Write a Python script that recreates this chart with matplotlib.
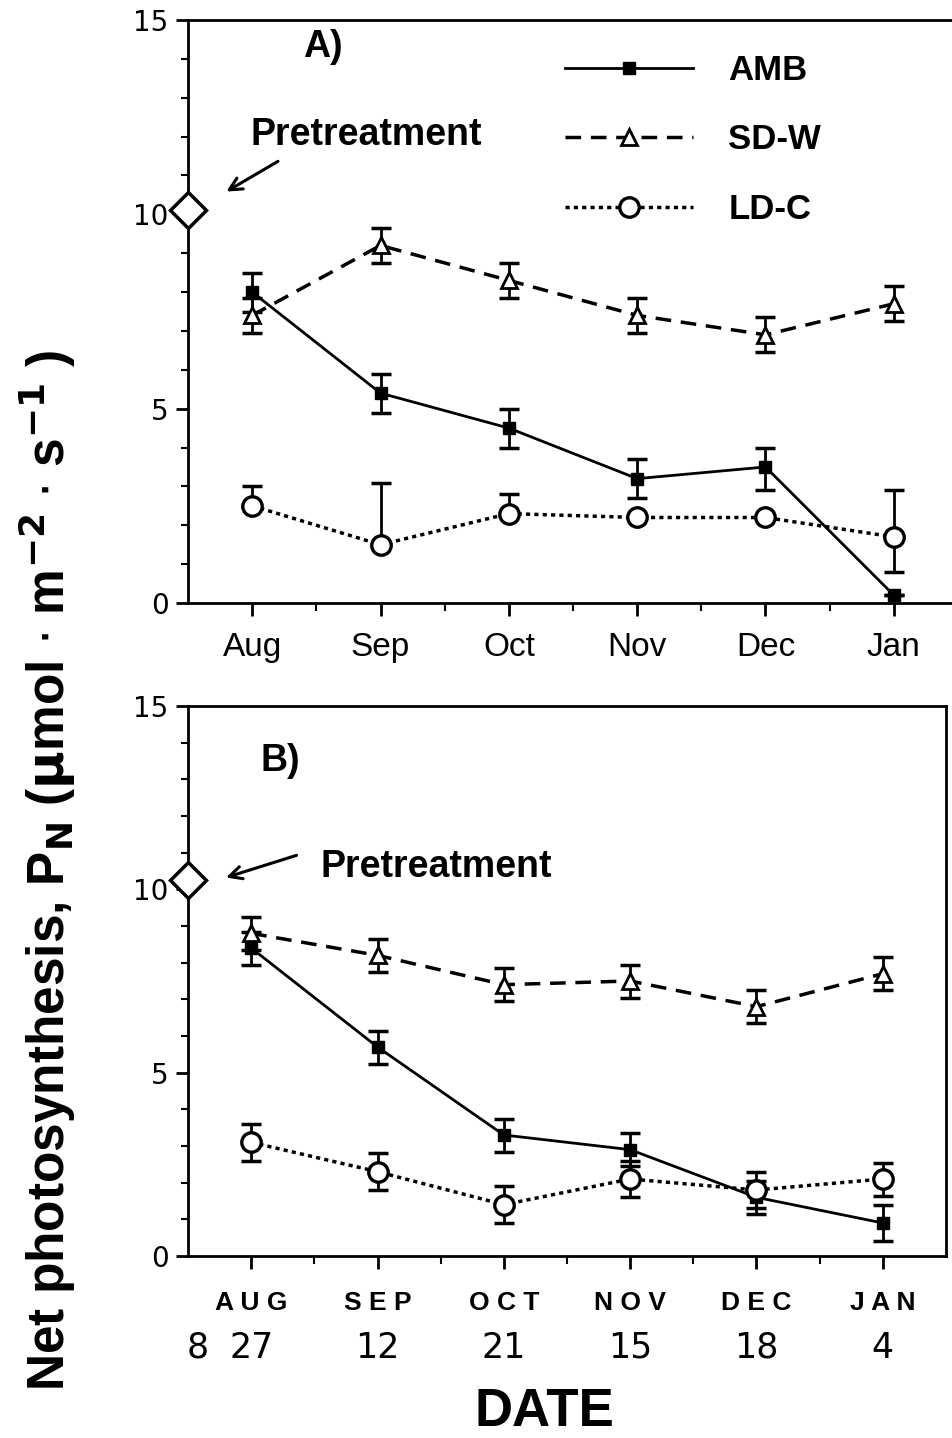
import matplotlib
matplotlib.use("Agg")
import matplotlib.pyplot as plt
from matplotlib.ticker import MultipleLocator, FixedLocator
from matplotlib.transforms import blended_transform_factory

# ---------------- data ----------------
months_a = ['Aug', 'Sep', 'Oct', 'Nov', 'Dec', 'Jan']
months_b = ['A U G', 'S E P', 'O C T', 'N O V', 'D E C', 'J A N']
dates_b = ['8', '27', '12', '21', '15', '18', '4']
y_ticks = [0, 5, 10, 15]

amb_a = [8.0, 5.4, 4.5, 3.2, 3.5, 0.2]
amb_a_lo = [0.5, 0.5, 0.5, 0.5, 0.6, 0.0]
amb_a_hi = [0.5, 0.5, 0.5, 0.5, 0.5, 0.0]
sdw_a = [7.4, 9.2, 8.3, 7.4, 6.9, 7.7]
sdw_a_err = [0.45, 0.45, 0.45, 0.45, 0.45, 0.45]
ldc_a = [2.5, 1.5, 2.3, 2.2, 2.2, 1.7]
ldc_a_lo = [0.0, 0.0, 0.0, 0.0, 0.0, 0.9]
ldc_a_hi = [0.5, 1.6, 0.5, 0.0, 0.0, 1.2]
pre_a = 10.1

amb_b = [8.4, 5.7, 3.3, 2.9, 1.6, 0.9]
amb_b_err = [0.45, 0.45, 0.45, 0.45, 0.45, 0.5]
sdw_b = [8.8, 8.2, 7.4, 7.5, 6.8, 7.7]
sdw_b_err = [0.45, 0.45, 0.45, 0.45, 0.45, 0.45]
ldc_b = [3.1, 2.3, 1.4, 2.1, 1.8, 2.1]
ldc_b_err = [0.5, 0.5, 0.5, 0.5, 0.5, 0.45]
pre_b = 10.25

series_names = ['AMB', 'SD-W', 'LD-C']

# ---------------- figure ----------------
W, H = 952, 1438
fig = plt.figure(figsize=(W / 100, H / 100), dpi=100)
fig.patch.set_facecolor('white')

sans = ['Liberation Sans', 'DejaVu Sans']

x = list(range(1, 7))

def style_axes(ax):
    ax.set_xlim(0.5, 6.5)
    ax.set_ylim(0, 15)
    ax.yaxis.set_minor_locator(MultipleLocator(1))
    ax.xaxis.set_major_locator(FixedLocator(x))
    ax.xaxis.set_minor_locator(FixedLocator([1.5, 2.5, 3.5, 4.5, 5.5]))
    ax.tick_params(axis='y', which='major', direction='out', length=9, width=2, pad=5,
                   labelsize=20)
    ax.tick_params(axis='y', which='minor', direction='out', length=5, width=1.5)
    ax.tick_params(axis='x', which='major', direction='out', length=9, width=2)
    ax.tick_params(axis='x', which='minor', direction='out', length=6, width=1.5)
    ax.set_yticks(y_ticks)
    ax.set_yticklabels([str(v) for v in y_ticks], family='DejaVu Sans', fontsize=20)
    for s in ax.spines.values():
        s.set_linewidth(2)

def draw_series(ax, amb, amb_err, sdw, sdw_err, ldc, ldc_err, pre):
    ek = dict(fmt='none', ecolor='black', elinewidth=2, capsize=7, capthick=2.5, zorder=3)
    ax.errorbar(x, sdw, yerr=sdw_err, **ek)
    ax.errorbar(x, amb, yerr=amb_err, **ek)
    ax.errorbar(x, ldc, yerr=ldc_err, **ek)
    l1, = ax.plot(x, amb, color='black', lw=2, ls='-', marker='s', ms=9,
                  mfc='black', mec='black', zorder=4)
    l2, = ax.plot(x, sdw, color='black', lw=2.5, ls=(0, (4.5, 2.8)), marker='^', ms=12,
                  mfc='white', mec='black', mew=2, zorder=4)
    l3, = ax.plot(x, ldc, color='black', lw=2.5, ls=(0, (1.2, 1.2)), marker='o', ms=14,
                  mfc='white', mec='black', mew=2.4, zorder=4)
    ax.plot([0.5], [pre], marker='D', ms=18, mfc='white', mec='black', mew=2.5,
            ls='none', clip_on=False, zorder=5)
    return [l1, l2, l3]

# ---------------- Panel A ----------------
axA = fig.add_axes([188 / W, 1 - 603 / H, (958 - 188) / W, (603 - 20) / H])
axA.spines['right'].set_visible(False)
handles = draw_series(axA, amb_a, [amb_a_lo, amb_a_hi], sdw_a, sdw_a_err,
                      ldc_a, [ldc_a_lo, ldc_a_hi], pre_a)
style_axes(axA)
axA.set_xticklabels(months_a, family=sans, fontsize=24)
axA.tick_params(axis='x', which='major', pad=12)
axA.text(1.55, 14.3, 'A)', family=sans, fontweight='bold', fontsize=27,
         ha='center', va='center')
axA.annotate('', xy=(0.78, 10.55), xytext=(1.22, 11.4),
             arrowprops=dict(arrowstyle='->,head_length=0.9,head_width=0.45',
                             lw=2.2, color='black'))
axA.text(0.99, 12.05, 'Pretreatment', family=sans, fontweight='bold',
         fontsize=27, ha='left', va='center')
leg = axA.legend(handles, series_names, loc='upper left',
                 bbox_to_anchor=(565 / W, 1 - 54 / H), bbox_transform=fig.transFigure,
                 frameon=False, borderpad=0, borderaxespad=0, handlelength=3.7,
                 handletextpad=1.0, labelspacing=1.05, numpoints=1,
                 prop=dict(family=sans, weight='bold', size=25))

# ---------------- Panel B ----------------
axB = fig.add_axes([188 / W, 1 - 1256 / H, (946 - 188) / W, (1256 - 706) / H])
draw_series(axB, amb_b, amb_b_err, sdw_b, sdw_b_err, ldc_b, ldc_b_err, pre_b)
style_axes(axB)
axB.set_xticklabels(months_b, family=sans, fontweight='bold', fontsize=19)
axB.tick_params(axis='x', which='major', pad=16)
axB.text(1.23, 13.5, 'B)', family=sans, fontweight='bold', fontsize=27,
         ha='center', va='center')
axB.annotate('', xy=(0.78, 10.3), xytext=(1.38, 10.95),
             arrowprops=dict(arrowstyle='->,head_length=0.9,head_width=0.45',
                             lw=2.2, color='black'))
axB.text(1.55, 10.6, 'Pretreatment', family=sans, fontweight='bold',
         fontsize=27, ha='left', va='center')

trans = blended_transform_factory(axB.transData, fig.transFigure)
date_x = [0.58] + x
for dx, d in zip(date_x, dates_b):
    axB.text(dx, 1 - 1348 / H, d, transform=trans, family='DejaVu Sans',
             fontsize=25, ha='center', va='center', clip_on=False)

fig.text(544 / W, 1 - 1412 / H, 'DATE', family=sans, fontweight='bold',
         fontsize=38, ha='center', va='center')

fig.text(47 / W, 1 - 870 / H,
         r'Net photosynthesis, P$_{\mathbf{N}}$ ($\mathbf{\mu}$mol $\cdot$ m$^{\mathbf{-2}}$ $\cdot$ s$^{\mathbf{-1}}$ )',
         family=sans, fontweight='bold', fontsize=37, rotation=90,
         ha='center', va='center')

fig.savefig('out.png', dpi=100)
